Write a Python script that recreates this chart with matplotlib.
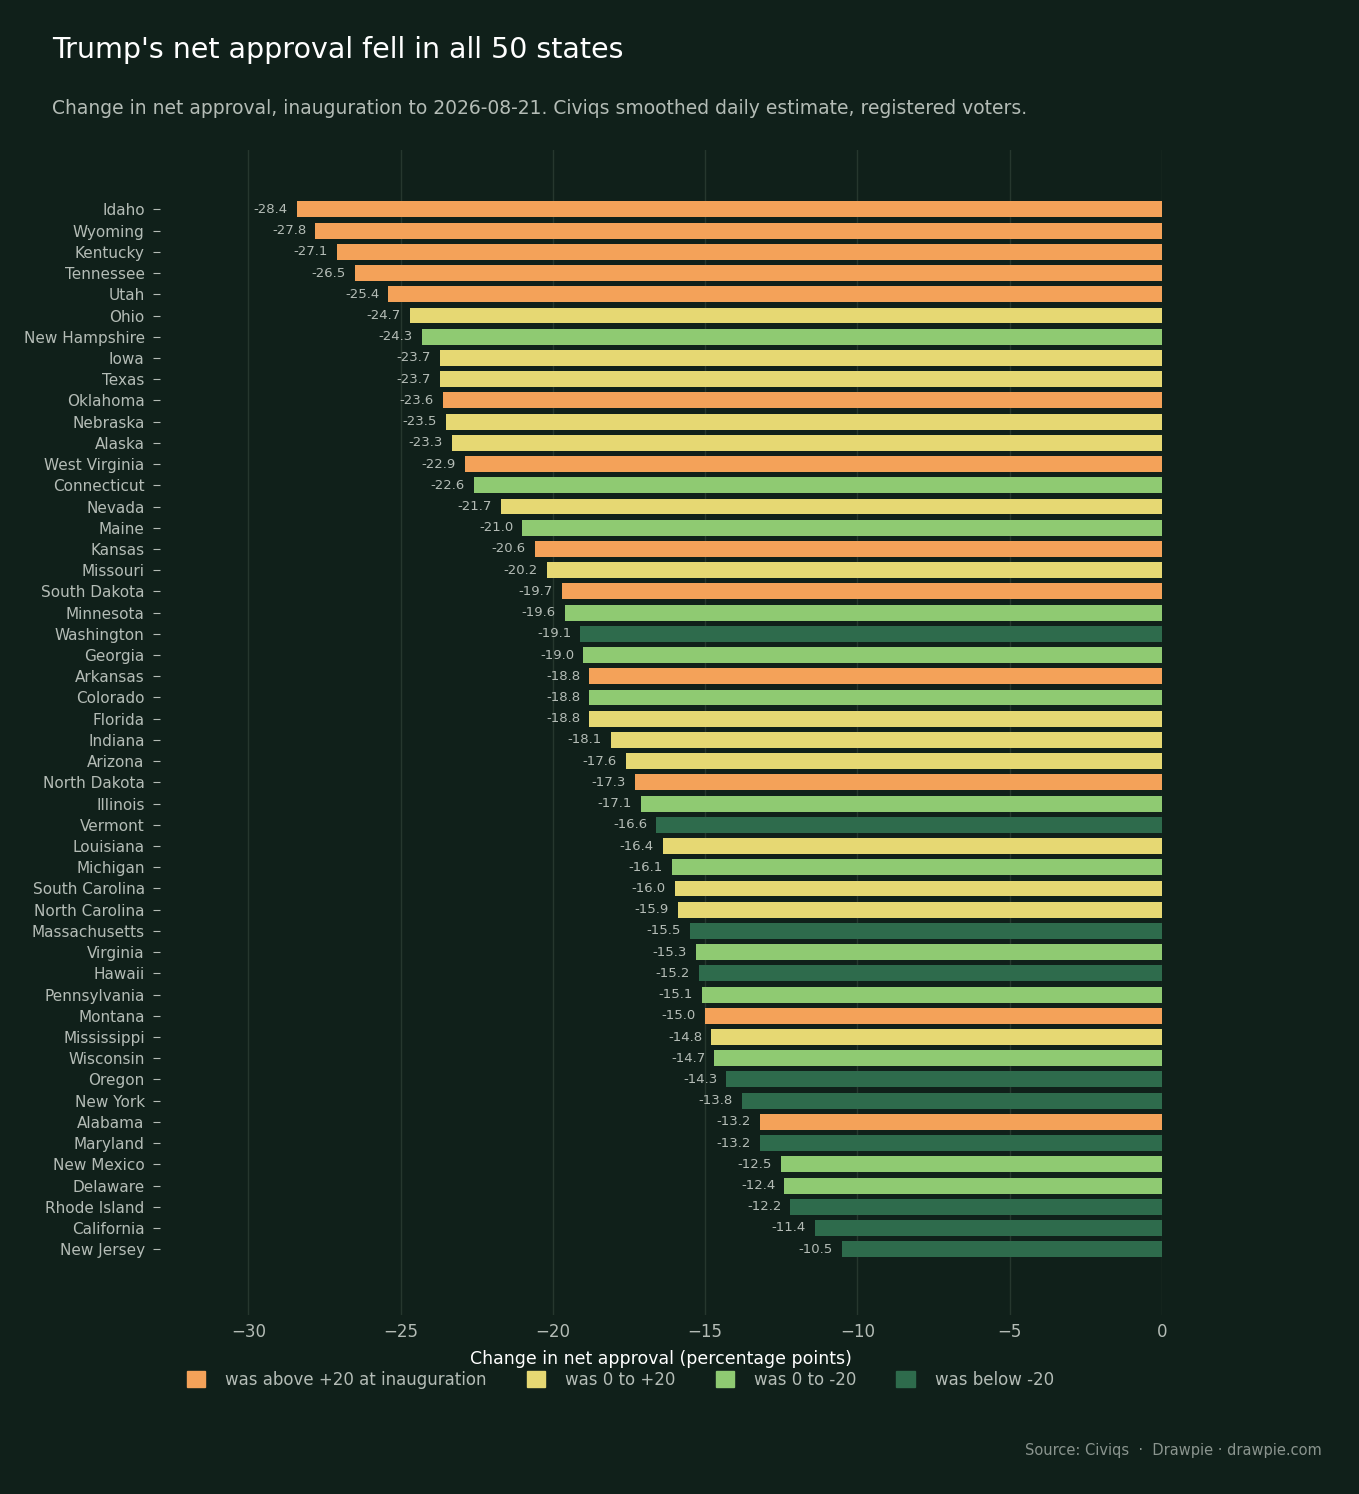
import matplotlib.pyplot as plt
from matplotlib.patches import Patch

states = ["Idaho", "Wyoming", "Kentucky", "Tennessee", "Utah", "Ohio", "New Hampshire", "Iowa",
          "Texas", "Oklahoma", "Nebraska", "Alaska", "West Virginia", "Connecticut", "Nevada",
          "Maine", "Kansas", "Missouri", "South Dakota", "Minnesota", "Washington", "Georgia",
          "Arkansas", "Colorado", "Florida", "Indiana", "Arizona", "North Dakota", "Illinois",
          "Vermont", "Louisiana", "Michigan", "South Carolina", "North Carolina", "Massachusetts",
          "Virginia", "Hawaii", "Pennsylvania", "Montana", "Mississippi", "Wisconsin", "Oregon",
          "New York", "Alabama", "Maryland", "New Mexico", "Delaware", "Rhode Island",
          "California", "New Jersey"]
change = [-28.4, -27.8, -27.1, -26.5, -25.4, -24.7, -24.3, -23.7, -23.7, -23.6, -23.5, -23.3,
          -22.9, -22.6, -21.7, -21.0, -20.6, -20.2, -19.7, -19.6, -19.1, -19.0, -18.8, -18.8,
          -18.8, -18.1, -17.6, -17.3, -17.1, -16.6, -16.4, -16.1, -16.0, -15.9, -15.5, -15.3,
          -15.2, -15.1, -15.0, -14.8, -14.7, -14.3, -13.8, -13.2, -13.2, -12.5, -12.4, -12.2,
          -11.4, -10.5]
# group: 0 above +20, 1 0 to +20, 2 0 to -20, 3 below -20
group = [0, 0, 0, 0, 0, 1, 2, 1, 1, 0, 1, 1, 0, 2, 1, 2, 0, 1, 0, 2, 3, 2, 0, 2, 1, 1, 1, 0, 2,
         3, 1, 2, 1, 1, 3, 2, 3, 2, 0, 1, 2, 3, 3, 0, 3, 2, 2, 3, 3, 3]
group_labels = ["was above +20 at inauguration", "was 0 to +20", "was 0 to -20", "was below -20"]
group_colors = ["#f4a259", "#e6d873", "#8fca72", "#2e6b4c"]

bg = "#10201a"
grey = "#b4bcb6"

fig = plt.figure(figsize=(13.59, 14.94), dpi=100, facecolor=bg)
ax = fig.add_axes([160 / 1359, 1 - 1315 / 1494, 1002 / 1359, 1165 / 1494], facecolor=bg)

y = list(range(len(states)))
ax.barh(y, change, height=0.75, color=[group_colors[g] for g in group], zorder=2)
for yi, v in zip(y, change):
    ax.text(v - 0.3, yi, f"{v:.1f}", ha="right", va="center", fontsize=9.5, color=grey, zorder=3)

ax.set_xlim(-32.9, 0)
ax.set_ylim(52.1, -2.8)
ax.set_yticks(y)
ax.set_yticklabels(states, fontsize=11, color=grey)
ax.set_xticks([-30, -25, -20, -15, -10, -5, 0])
ax.set_xticklabels(["\u221230", "\u221225", "\u221220", "\u221215", "\u221210", "\u22125", "0"],
                   fontsize=12, color=grey)
ax.tick_params(axis="y", length=5, color=grey, pad=6)
ax.tick_params(axis="x", length=0, pad=6)
ax.grid(axis="x", color="#26372e", linewidth=1, zorder=0)
for s in ax.spines.values():
    s.set_visible(False)
ax.set_xlabel("Change in net approval (percentage points)", fontsize=12.5, color="white", labelpad=6)

fig.text(52 / 1359, 1 - 50 / 1494, "Trump's net approval fell in all 50 states", fontsize=20.5,
         color="white", va="center")
fig.text(52 / 1359, 1 - 108 / 1494,
         "Change in net approval, inauguration to 2026-08-21. Civiqs smoothed daily estimate, registered voters.",
         fontsize=13.5, color=grey, va="center")

handles = [Patch(color=c, label=l) for c, l in zip(group_colors, group_labels)]
fig.legend(handles=handles, loc="center left", bbox_to_anchor=(172 / 1359, 1 - 1380 / 1494),
           ncol=4, frameon=False, fontsize=12, labelcolor=grey, handlelength=1.1,
           handleheight=1.1, columnspacing=2.4, handletextpad=1.2)

fig.text(1322 / 1359, 1 - 1450 / 1494, "Source: Civiqs  \u00b7  Drawpie \u00b7 drawpie.com", fontsize=10.5,
         color="#8a948e", ha="right", va="center")

fig.savefig("out.png", dpi=100, facecolor=bg)
